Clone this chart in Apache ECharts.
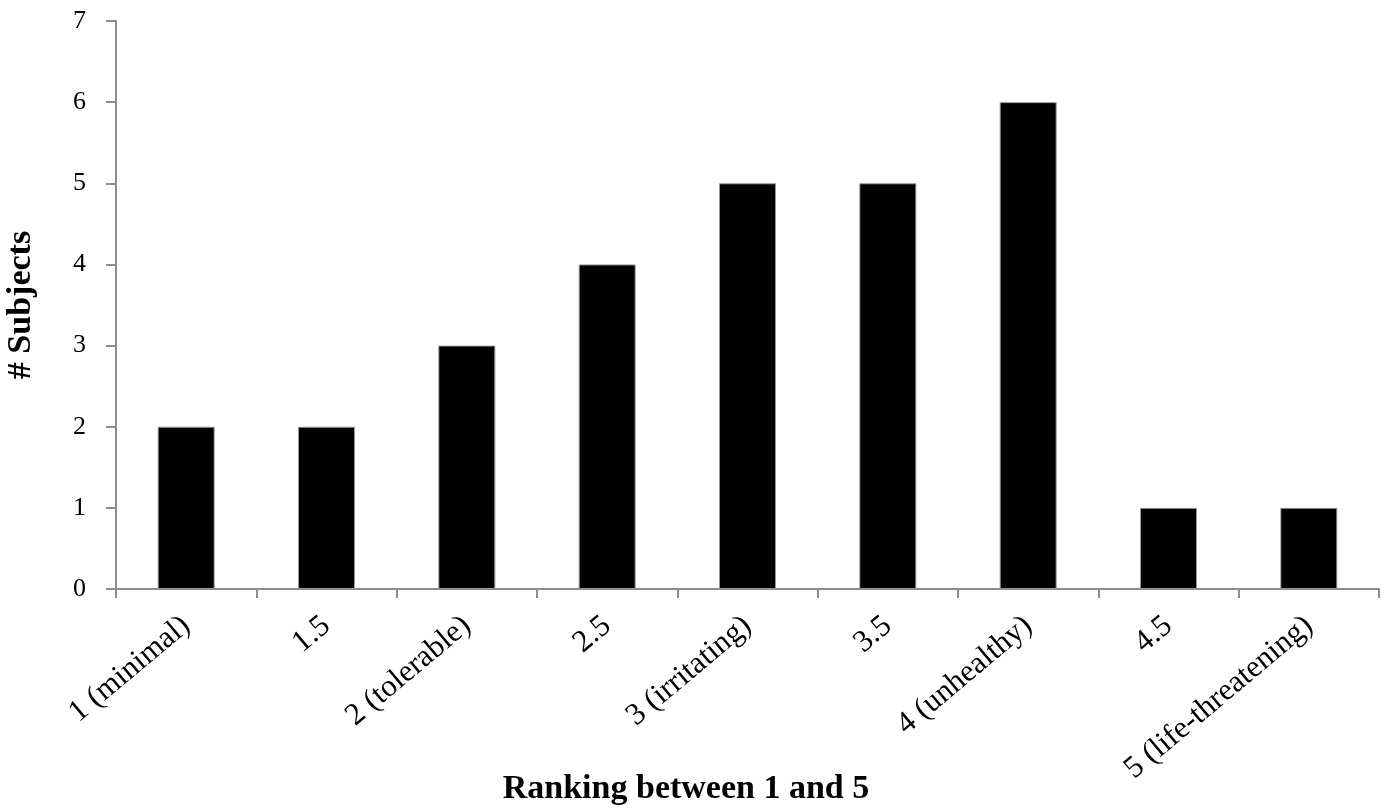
<!DOCTYPE html>
<html>
<head>
<meta charset="utf-8">
<script src="https://cdn.jsdelivr.net/npm/echarts@6/dist/echarts.min.js"></script>
<style>html,body{margin:0;padding:0;background:#fff}#c{width:1387px;height:810px}</style>
</head>
<body>
<div id="c"></div>
<script>
const categories = ['1 (minimal)', '1.5', '2 (tolerable)', '2.5', '3 (irritating)', '3.5', '4 (unhealthy)', '4.5', '5 (life-threatening)'];
const subjects = [2, 2, 3, 4, 5, 5, 6, 1, 1];
const xTitle = 'Ranking between 1 and 5';
const yTitle = '# Subjects';

const chart = echarts.init(document.getElementById('c'), null, {renderer: 'canvas'});
const font = '"Liberation Serif", "Times New Roman", serif';
chart.setOption({
  animation: false,
  backgroundColor: '#fff',
  grid: {left: 116, right: 8, top: 21, bottom: 221, containLabel: false, outerBoundsMode: 'none'},
  graphic: [{
    type: 'text',
    style: {
      x: 686, y: 789,
      text: xTitle,
      textAlign: 'center',
      textVerticalAlign: 'middle',
      font: 'bold 34px ' + font,
      fill: '#000'
    }
  }],
  xAxis: {
    type: 'category',
    data: categories,
    axisLine: {lineStyle: {color: '#8c8c8c', width: 2}},
    axisTick: {show: true, length: 9, lineStyle: {color: '#8c8c8c', width: 2}, alignWithLabel: false},
    axisLabel: {rotate: 40, color: '#000', fontFamily: font, fontSize: 31, margin: 33, interval: 0}
  },
  yAxis: {
    type: 'value',
    min: 0, max: 7, interval: 1,
    axisLine: {show: true, lineStyle: {color: '#8c8c8c', width: 2}},
    axisTick: {show: true, length: 10, lineStyle: {color: '#8c8c8c', width: 2}},
    splitLine: {show: false},
    axisLabel: {color: '#000', fontFamily: font, fontSize: 26, margin: 30},
    name: yTitle,
    nameLocation: 'middle',
    nameGap: 78,
    nameTextStyle: {fontFamily: font, fontSize: 34, fontWeight: 'bold', color: '#000'}
  },
  series: [{
    type: 'bar',
    data: subjects,
    barWidth: 57,
    itemStyle: {color: '#000', borderColor: '#999', borderWidth: 1}
  }]
});
</script>
</body>
</html>
